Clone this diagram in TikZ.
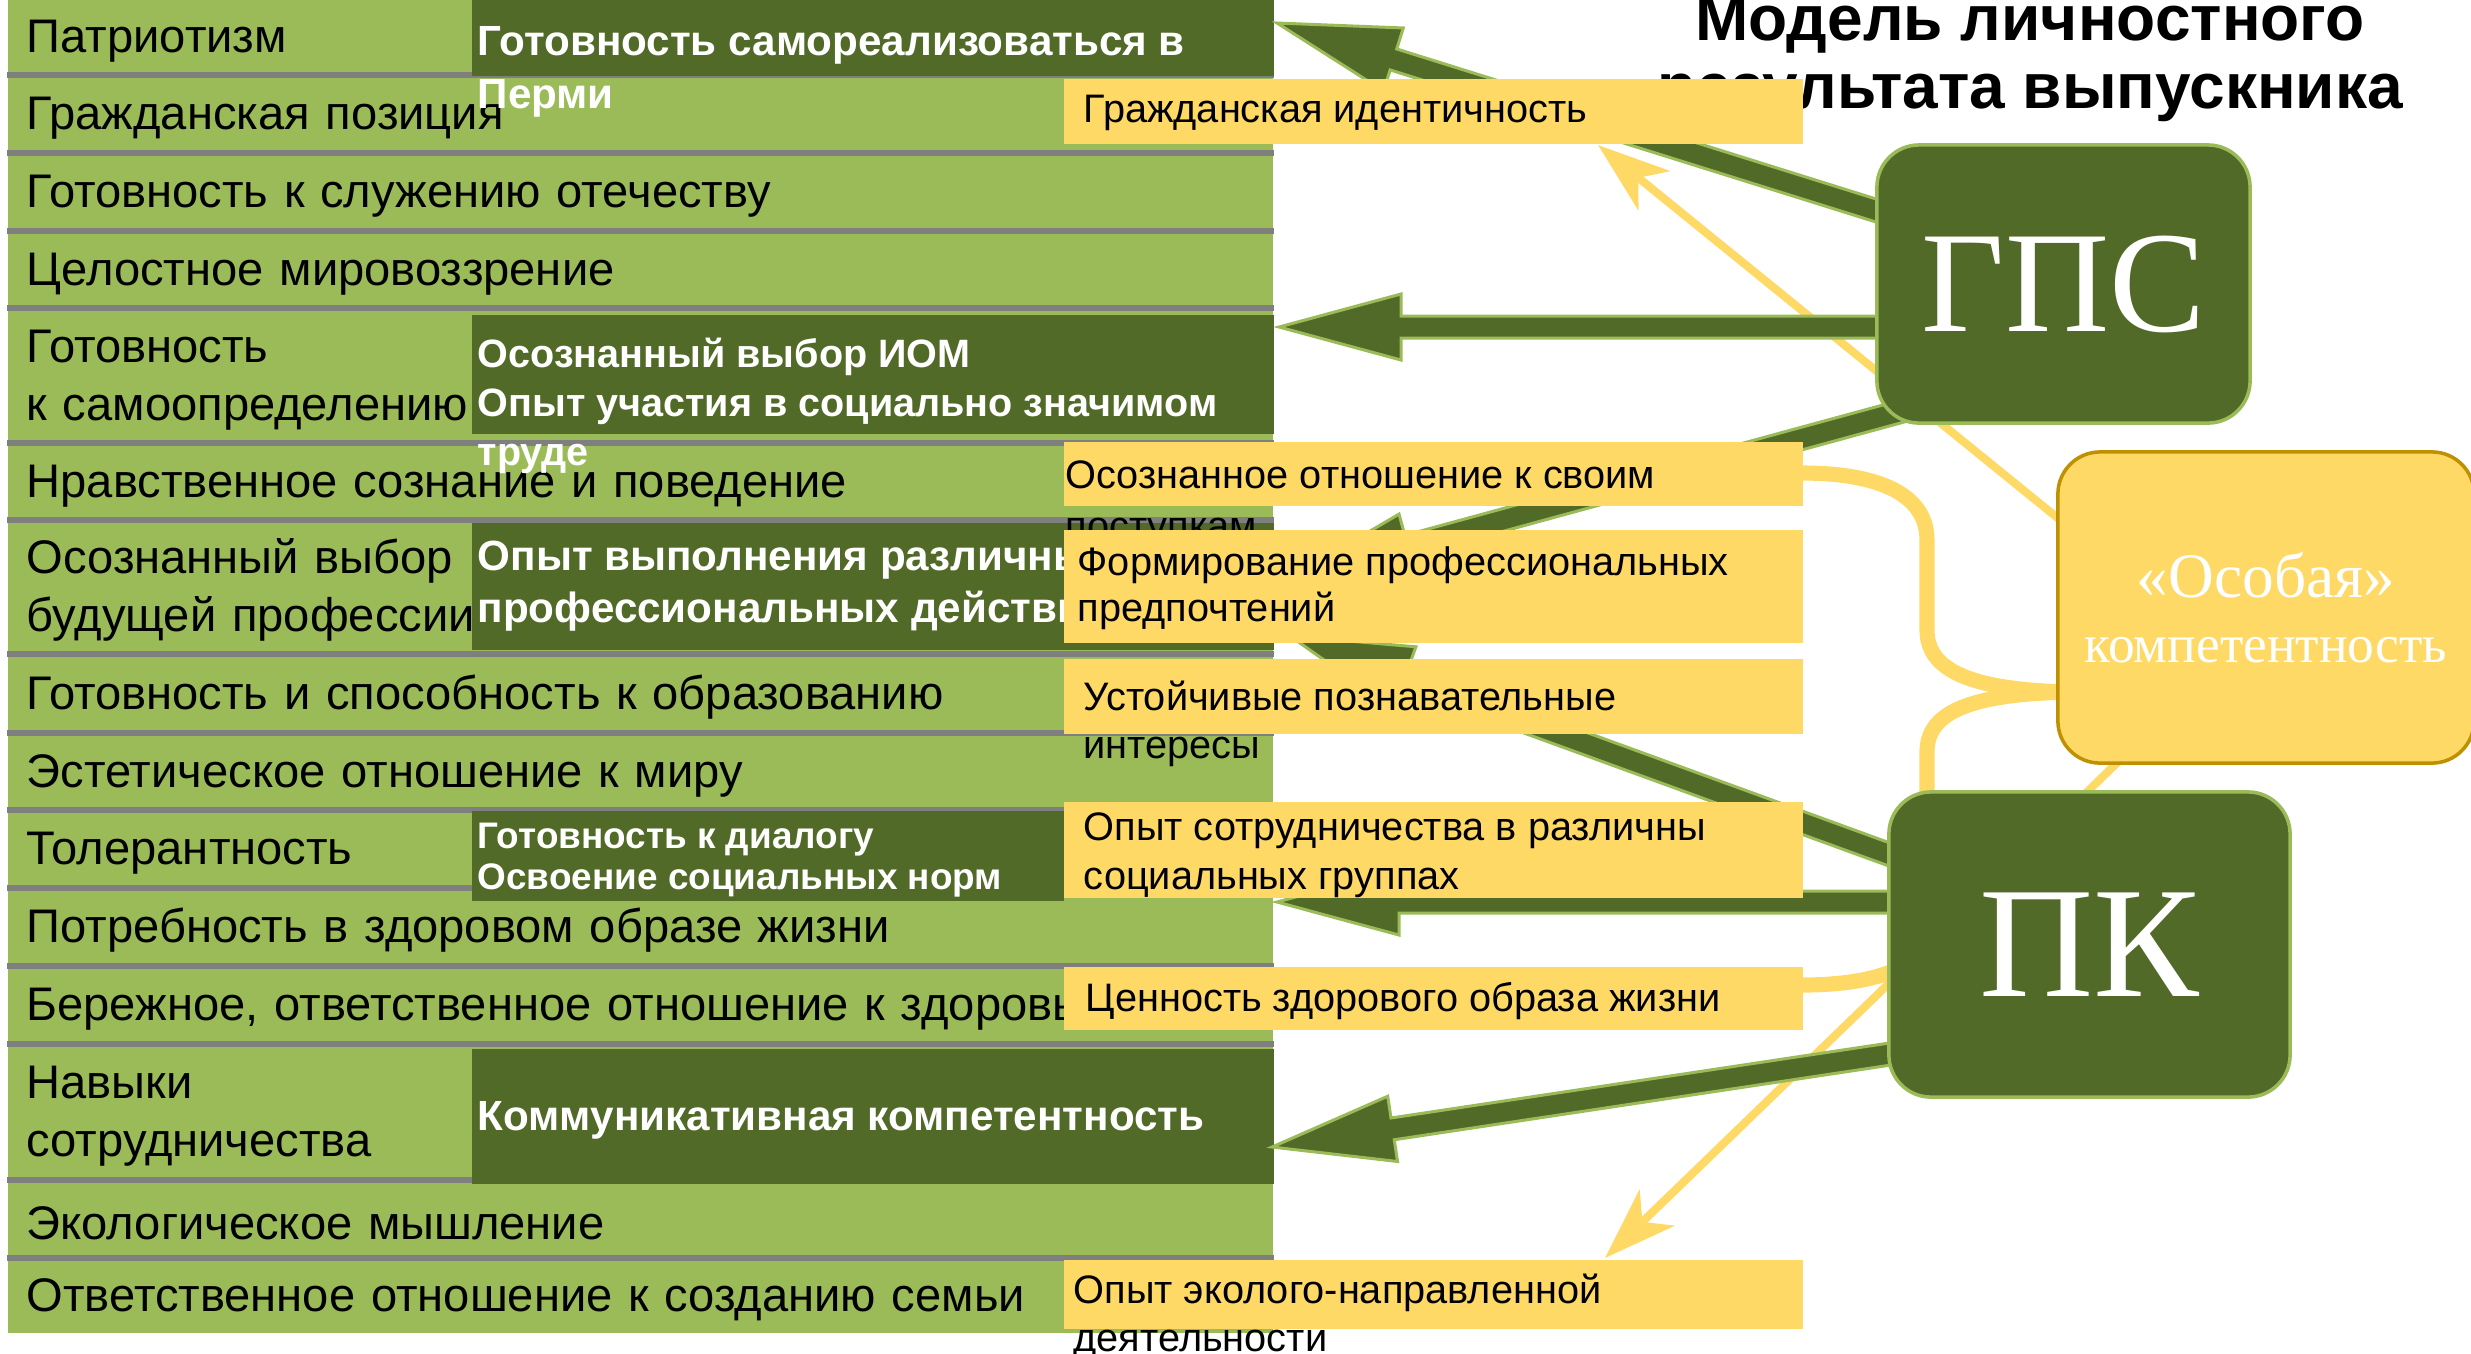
\documentclass[tikz,border=0pt]{standalone}
\usepackage{fontspec}
\setmainfont{Liberation Sans}
\newfontfamily\timesfont{Liberation Serif}
\usetikzlibrary{calc,arrows.meta}

\definecolor{ltgreen}{HTML}{9BBB59}
\definecolor{dkgreen}{HTML}{526A28}
\definecolor{goldfill}{HTML}{FFD966}
\definecolor{goldline}{HTML}{BF9000}
\definecolor{sepgray}{HTML}{7F7F7F}

\tikzset{
  rowbox/.style={fill=ltgreen, minimum width=12.65cm, text width=12.27cm, inner xsep=0.19cm,
    inner ysep=0pt, align=left, font=\fontsize{13.4}{16.5}\selectfont,
    execute at begin node={\rule{0pt}{12.3pt}}},
  sepline/.style={draw=sepgray, line width=1.7pt},
  dkbox/.style={fill=dkgreen, inner sep=0pt, anchor=north west},
  dktext/.style={text=white, font=\bfseries\fontsize{12}{15}\selectfont, anchor=west, inner sep=0pt, align=left},
  ylbox/.style={fill=goldfill, inner sep=0pt, anchor=north west, minimum width=7.39cm},
  yltext/.style={font=\fontsize{11.3}{13.4}\selectfont, anchor=west, inner sep=0pt, align=left},
  core/.style={rounded corners=12pt, fill=dkgreen, draw=ltgreen, line width=1pt, text=white,
    font=\timesfont\fontsize{41}{41}\selectfont},
  special/.style={rounded corners=12pt, fill=goldfill, draw=goldline, line width=1pt, text=white,
    align=center, font=\timesfont\fontsize{18}{18.7}\selectfont},
  fatarr/.style={fill=dkgreen, draw=ltgreen, line width=0.85pt},
  thinarr/.style={draw=goldfill, line width=2.3pt, -{Stealth[length=20.5pt, width=14.2pt, inset=5.7pt]}},
  bracket/.style={draw=goldfill, line width=4.3pt}
}

\newcommand{\fatarrow}[2]{%
  \draw[fatarr] let \p1=($(#1)-(#2)$), \n1={atan2(\y1,\x1)}, \n2={veclen(\x1,\y1)} in
    ([shift={(#2)},rotate=\n1]0,0) -- ([shift={(#2)},rotate=\n1]122,33)
    -- ([shift={(#2)},rotate=\n1]122,11) -- ([shift={(#2)},rotate=\n1]\n2,11)
    -- ([shift={(#2)},rotate=\n1]\n2,-11) -- ([shift={(#2)},rotate=\n1]122,-11)
    -- ([shift={(#2)},rotate=\n1]122,-33) -- cycle;}

\begin{document}
\begin{tikzpicture}[x=0.01cm, y=-0.01cm]
\useasboundingbox (0,0) rectangle (2471,1353);

\node[rowbox, minimum height=0.76cm] (r1) at (640.5,36) {Патриотизм};
\node[rowbox, minimum height=0.78cm] (r2) at (640.5,113) {Гражданская позиция};
\node[rowbox, minimum height=0.78cm] (r3) at (640.5,191) {Готовность к служению отечеству};
\node[rowbox, minimum height=0.77cm] (r4) at (640.5,268.5) {Целостное мировоззрение};
\node[rowbox, minimum height=1.35cm] (r5) at (640.5,374.5) {Готовность\\к самоопределению};
\node[rowbox, minimum height=0.77cm] (r6) at (640.5,480.5) {Нравственное сознание и поведение};
\node[rowbox, minimum height=1.34cm] (r7) at (640.5,586) {Осознанный выбор\\будущей профессии};
\node[rowbox, minimum height=0.79cm] (r8) at (640.5,692.5) {Готовность и способность к образованию};
\node[rowbox, minimum height=0.77cm] (r9) at (640.5,770.5) {Эстетическое отношение к миру};
\node[rowbox, minimum height=0.78cm] (r10) at (640.5,848) {Толерантность};
\node[rowbox, minimum height=0.78cm] (r11) at (640.5,926) {Потребность в здоровом образе жизни};
\node[rowbox, minimum height=0.78cm] (r12) at (640.5,1004) {Бережное, ответственное отношение к здоровью};
\node[rowbox, minimum height=1.36cm] (r13) at (640.5,1111) {Навыки\\сотрудничества};
\node[rowbox, minimum height=0.78cm] (r14) at (640.5,1218) {Экологическое мышление};
\node[rowbox, minimum height=0.76cm] (r15) at (640.5,1295) {Ответственное отношение к созданию семьи};

\foreach \r in {1,...,14}
  \draw[sepline] (r\r.south west) -- (r\r.south east);

\node[dkbox, minimum width=8.02cm, minimum height=0.80cm] (d1) at (471,-5) {};
\node[dktext] (d1t) at (477,72) {Готовность самореализоваться в\\Перми};
\node[dkbox, minimum width=8.02cm, minimum height=1.19cm] (d2) at (471,314) {};
\node[dktext, font=\bfseries\fontsize{11.25}{14}\selectfont] (d2t) at (477,406)
  {Осознанный выбор ИОМ\\Опыт участия в социально значимом\\труде};
\node[dkbox, minimum width=8.02cm, minimum height=1.27cm] (d3) at (471,522) {};
\node[dktext] (d3t) at (477,586) {Опыт выполнения различных\\профессиональных действий};
\node[dkbox, minimum width=5.92cm, minimum height=0.90cm] (d4) at (471,810) {};
\node[dktext, font=\bfseries\fontsize{10.5}{11.7}\selectfont] (d4t) at (477,860)
  {Готовность к диалогу\\Освоение социальных норм};
\node[dkbox, minimum width=8.02cm, minimum height=1.35cm] (d5) at (471,1048) {};
\node[dktext] (d5t) at (477,1120) {Коммуникативная компетентность};

\node[font=\bfseries\fontsize{18.2}{19.4}\selectfont, align=center, inner sep=0pt] (ttl) at (2030,59)
  {Модель личностного\\результата выпускника};

\coordinate (sa) at (1900,218);  \coordinate (ta) at (1277,23);
\coordinate (sb) at (1900,327);  \coordinate (tb) at (1279,327);
\coordinate (sc) at (1910,409);  \coordinate (tc) at (1290,578);
\coordinate (sd) at (1910,862);  \coordinate (td) at (1290,636);
\coordinate (se) at (1910,902);  \coordinate (te) at (1277,902);
\coordinate (sf) at (1910,1051); \coordinate (tf) at (1272,1147);
\coordinate (so1) at (2070,528); \coordinate (to1) at (1598,145);
\coordinate (so2) at (2120,760); \coordinate (to2) at (1605,1258);

\draw[thinarr] (so1) -- (to1);
\draw[thinarr] (so2) -- (to2);
\draw[bracket] (1802,473) .. controls (1880,473) and (1927,495) .. (1927,540) -- (1927,630)
  .. controls (1927,670) and (1970,690) .. (2070,692)
  .. controls (1970,694) and (1927,712) .. (1927,752) -- (1927,930)
  .. controls (1927,965) and (1880,985) .. (1802,985);

\fatarrow{sa}{ta}
\fatarrow{sb}{tb}
\fatarrow{sc}{tc}
\fatarrow{sd}{td}
\fatarrow{se}{te}
\fatarrow{sf}{tf}

\node[ylbox, minimum height=0.65cm] (y1) at (1063,78) {};
\node[yltext] (y1t) at (1083,113) {Гражданская идентичность};
\node[ylbox, minimum height=0.64cm] (y2) at (1063,441) {};
\node[yltext, font=\fontsize{11.3}{14.5}\selectfont] (y2t) at (1065,504) {Осознанное отношение к своим\\поступкам};
\node[ylbox, minimum height=1.13cm] (y3) at (1063,529) {};
\node[yltext, font=\fontsize{11.3}{13.1}\selectfont] (y3t) at (1077,588) {Формирование профессиональных\\предпочтений};
\node[ylbox, minimum height=0.75cm] (y4) at (1063,658) {};
\node[yltext, font=\fontsize{11.3}{13.7}\selectfont] (y4t) at (1083,724) {Устойчивые познавательные\\интересы};
\node[ylbox, minimum height=0.96cm] (y5) at (1063,801) {};
\node[yltext, font=\fontsize{11.3}{14}\selectfont] (y5t) at (1083,855.5) {Опыт сотрудничества в различны\\социальных группах};
\node[ylbox, minimum height=0.63cm] (y6) at (1063,966) {};
\node[yltext] (y6t) at (1085,1001) {Ценность здорового образа жизни};
\node[ylbox, minimum height=0.69cm] (y7) at (1063,1259) {};
\node[yltext, font=\fontsize{11.3}{13.7}\selectfont] (y7t) at (1073,1317) {Опыт эколого-направленной\\деятельности};

\node[core, minimum width=3.73cm, minimum height=2.78cm] (gps) at (2063.5,284) {ГПС};
\node[core, minimum width=4.01cm, minimum height=3.05cm, font=\timesfont\fontsize{45}{45}\selectfont] (pk) at (2089.5,944.5) {ПК};
\node[special, minimum width=4.16cm, minimum height=3.11cm] (osob) at (2266,607.5)
  {«Особая»\\{\fontsize{15.2}{18.7}\selectfont компетентность}};
\end{tikzpicture}
\end{document}
